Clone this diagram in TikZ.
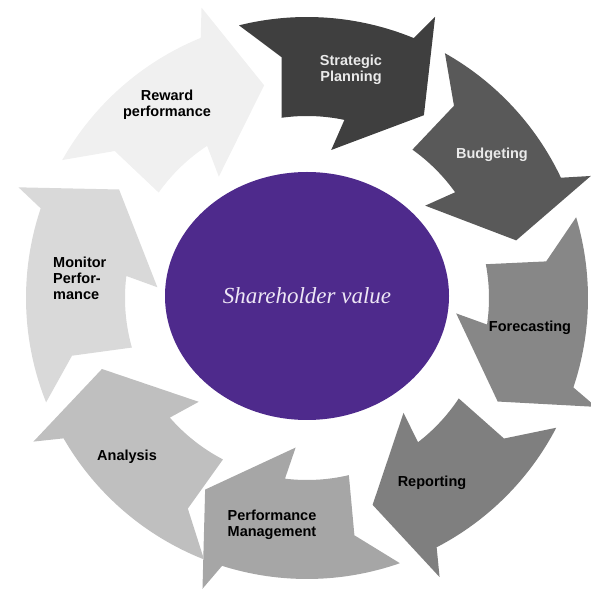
\documentclass[tikz,border=0pt]{standalone}
\usepackage{fontspec}
\setmainfont{Liberation Sans}
\newfontfamily\serifit{Liberation Serif}
\usetikzlibrary{shapes.geometric}
\definecolor{cSP}{HTML}{3F3F3F}
\definecolor{cBud}{HTML}{595959}
\definecolor{cFor}{HTML}{878787}
\definecolor{cRep}{HTML}{7F7F7F}
\definecolor{cPM}{HTML}{A6A6A6}
\definecolor{cAna}{HTML}{BFBFBF}
\definecolor{cMon}{HTML}{D9D9D9}
\definecolor{cRew}{HTML}{F0F0F0}
\definecolor{cCore}{RGB}{78,42,140}
\definecolor{cLav}{HTML}{EDE6F5}
\definecolor{cLight}{HTML}{EAEAEA}
% #1 tail angle, #2 angular span, #3 colour
\newcommand\ringarrow[3]{%
  \fill[#3, shift={(307,294)}]
    (#1:281) -- ({#1-8}:242) -- ({#1-6}:182)
    arc[start angle={#1-6}, end angle={#1-0.555*#2}, radius=182]
    -- ({#1-0.5*#2}:150) -- ({#1-#2}:217) -- ({#1-0.826*#2}:309)
    -- ({#1-0.78*#2}:281)
    arc[start angle={#1-0.78*#2}, end angle={#1}, radius=281] -- cycle;}
\begin{document}
\begin{tikzpicture}[x=1pt,y=1pt,
  lbl/.style={font=\bfseries\fontsize{14.5}{16}\selectfont, align=center, inner sep=0pt}]
\useasboundingbox (0,0) rectangle (590,592);
\ringarrow{104}{46.6}{cSP}
\ringarrow{60.6}{45.2}{cBud}
\ringarrow{16.7}{45.2}{cFor}
\ringarrow{-27.5}{44.9}{cRep}
\ringarrow{-70.7}{47.3}{cPM}
\ringarrow{-111.5}{49.4}{cAna}
\ringarrow{-158.2}{51.8}{cMon}
\ringarrow{150.6}{49.2}{cRew}
\node (core) [ellipse, fill=cCore, minimum width=284pt, minimum height=248pt, inner sep=0pt,
  text=cLav, font=\serifit\itshape\fontsize{23}{26}\selectfont] at (307,296) {Shareholder value};
\node (sp)  [lbl, text=cLight] at (351,522) {Strategic\\Planning};
\node (bud) [lbl, text=cLight] at (492,437) {Budgeting};
\node (for) [lbl] at (530,264) {Forecasting};
\node (rep) [lbl] at (432,109) {Reporting};
\node (pm)  [lbl] at (272,67) {Performance\\Management};
\node (ana) [lbl] at (127,135) {Analysis};
\node (mon) [lbl, align=left, anchor=west] at (53,314) {Monitor\\Perfor-\\mance};
\node (rew) [lbl] at (167,487) {Reward\\performance};
\end{tikzpicture}
\end{document}
